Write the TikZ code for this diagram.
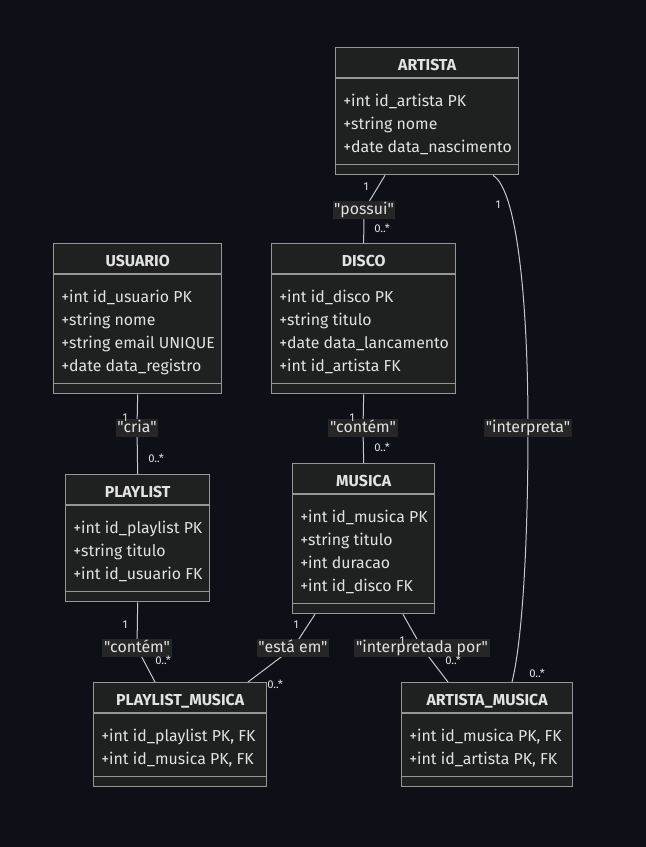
\documentclass[tikz,border=0pt]{standalone}
\usepackage{fontspec}
\setmainfont{Fira Sans}[Ligatures=TeXOff]
\usetikzlibrary{calc}

\definecolor{fundo}{RGB}{13,17,23}
\definecolor{caixa}{RGB}{31,32,32}
\definecolor{borda}{RGB}{150,150,150}
\definecolor{texto}{RGB}{226,226,226}
\definecolor{linha}{RGB}{200,200,200}
\definecolor{rotfundo}{RGB}{38,38,38}

\pgfdeclarelayer{fundolayer}
\pgfdeclarelayer{arestas}
\pgfsetlayers{fundolayer,arestas,main}

\tikzset{
    entbox/.style={draw=borda, fill=caixa, line width=1pt, inner sep=0pt},
    sepline/.style={draw=borda, line width=1pt},
    titulo/.style={text=texto, anchor=base, inner sep=0pt, font=\fontsize{11.9}{13}\selectfont\bfseries},
    atrib/.style={text=texto, anchor=base west, inner sep=0pt, font=\fontsize{11.9}{13}\selectfont},
    rel/.style={draw=linha, line width=0.75pt},
    rotulo/.style={fill=rotfundo, text=texto, inner xsep=1.2pt, inner ysep=0.5pt,
        text height=9pt, text depth=2.8pt, font=\fontsize{11.9}{13}\selectfont},
    card/.style={text=texto, inner sep=0pt, font=\fontsize{8.5}{9}\selectfont},
}

% name, left, top, width, number of attributes, title, attributes
\newcommand{\entidade}[7]{%
    \node[entbox, anchor=north west, minimum width=#4*0.75pt,
        minimum height=(58+23*#5)*0.75pt] (#1) at (#2,#3) {};
    \draw[sepline] ($(#1.north west)+(0,31)$) -- ($(#1.north east)+(0,31)$);
    \draw[sepline] ($(#1.south west)+(0,-11)$) -- ($(#1.south east)+(0,-11)$);
    \node[titulo] at ($(#1.north)+(0,23.5)$) {#6};
    \foreach \a [count=\i] in {#7}
        \node[atrib] at ($(#1.north west)+(8,36+23*\i)$) {\a};
}

\begin{document}
\begin{tikzpicture}[x=0.75pt,y=-0.75pt]
    \begin{pgfonlayer}{fundolayer}
        \fill[fundo] (0,0) rectangle (646,847);
    \end{pgfonlayer}
    \useasboundingbox (0,0) rectangle (646,847);

    %% The entities
    \entidade{artista}{335}{47}{183}{3}{ARTISTA}%
        {+int id\_artista PK, +string nome, +date data\_nascimento}
    \entidade{usuario}{53}{243}{168}{4}{USUARIO}%
        {+int id\_usuario PK, +string nome, +string email UNIQUE, +date data\_registro}
    \entidade{disco}{271}{243}{184}{4}{DISCO}%
        {+int id\_disco PK, +string titulo, +date data\_lancamento, +int id\_artista FK}
    \entidade{playlist}{65}{474}{144}{3}{PLAYLIST}%
        {+int id\_playlist PK, +string titulo, +int id\_usuario FK}
    \entidade{musica}{292}{463}{142}{4}{MUSICA}%
        {+int id\_musica PK, +string titulo, +int duracao, +int id\_disco FK}
    \entidade{plmusica}{93}{682}{173}{2}{PLAYLIST\_MUSICA}%
        {{+int id\_playlist PK, FK}, {+int id\_musica PK, FK}}
    \entidade{artmusica}{401}{682}{171}{2}{ARTISTA\_MUSICA}%
        {{+int id\_musica PK, FK}, {+int id\_artista PK, FK}}

    %% Relation labels
    \node[rotulo] (possui) at (364,210) {"possui"};
    \node[rotulo] (interpreta) at (528,428) {"interpreta"};
    \node[rotulo] (cria) at (137,428) {"cria"};
    \node[rotulo] (discocontem) at (363,428) {"contém"};
    \node[rotulo] (plcontem) at (137,648) {"contém"};
    \node[rotulo] (estaem) at (293,648) {"está em"};
    \node[rotulo] (interpretada) at (422,648) {"interpretada por"};

    %% Connectors, behind the boxes and labels
    \begin{pgfonlayer}{arestas}
        \draw[rel] ($(artista.south west)+(50,0)$) -- (possui.center) -- (disco.north);
        \draw[rel] ($(artista.south west)+(158,0)$) .. controls +(25,15) and +(0,-120) .. (interpreta.center)
            .. controls +(0,120) and +(10,-40) .. ($(artmusica.north west)+(111,0)$);
        \draw[rel] (usuario.south) -- (cria.center) -- (playlist.north);
        \draw[rel] (disco.south) -- (discocontem.center) -- (musica.north);
        \draw[rel] (playlist.south) -- (plcontem.center) -- ($(plmusica.north west)+(62,0)$);
        \draw[rel] ($(musica.south west)+(23,0)$) -- (estaem.center) -- ($(plmusica.north west)+(155,0)$);
        \draw[rel] ($(musica.south west)+(111,0)$) -- (interpretada.center) -- ($(artmusica.north west)+(47,0)$);
    \end{pgfonlayer}

    %% Cardinalities
    \node[card] (c1a) at (366,187) {1};
    \node[card] (c1b) at (382,228) {0..*};
    \node[card] (c2a) at (498,205) {1};
    \node[card] (c2b) at (537,673) {0..*};
    \node[card] (c3a) at (125,418) {1};
    \node[card] (c3b) at (156,458) {0..*};
    \node[card] (c4a) at (352,418) {1};
    \node[card] (c4b) at (382,447) {0..*};
    \node[card] (c5a) at (125,625) {1};
    \node[card] (c5b) at (163,660) {0..*};
    \node[card] (c6a) at (296,625) {1};
    \node[card] (c6b) at (275,684) {0..*};
    \node[card] (c7a) at (402,641) {1};
    \node[card] (c7b) at (453,660) {0..*};
\end{tikzpicture}
\end{document}
